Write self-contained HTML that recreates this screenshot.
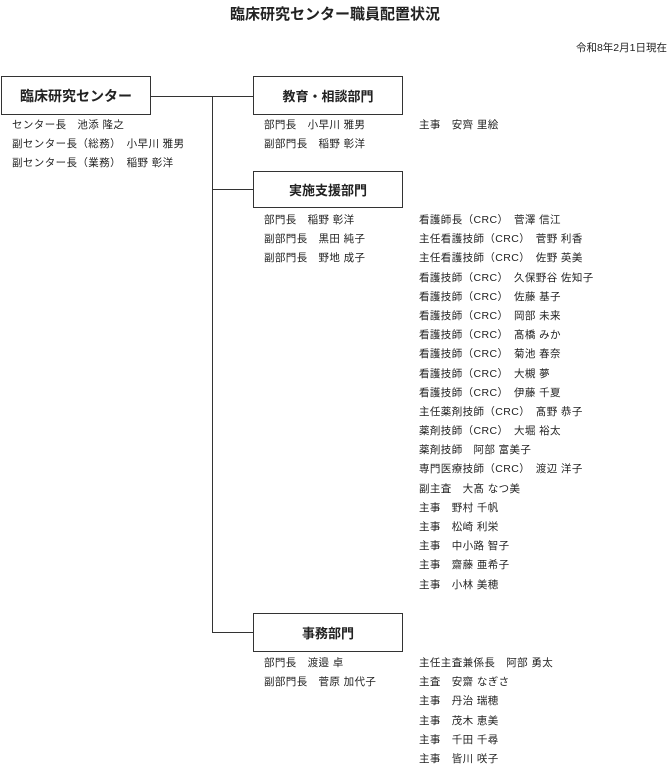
<!DOCTYPE html>
<html><head><meta charset="utf-8"><style>
body{margin:0;width:670px;height:763px;background:#fff;position:relative;font-family:"Liberation Sans","Noto Sans CJK JP",sans-serif;color:#222;overflow:hidden}
.a{position:absolute;white-space:pre;font-size:10px;line-height:12px}
.box{position:absolute;border:1px solid #333;box-sizing:border-box;display:flex;align-items:center;justify-content:center;font-weight:bold;font-size:13px}
.l{position:absolute;background:#333}
.col{position:absolute;font-size:10.5px;letter-spacing:0.4px;white-space:pre}
.col div{height:19.2px;line-height:12px}
</style></head><body>
<div class="a" style="left:0;width:670px;text-align:center;top:6px;font-size:15px;line-height:18px;font-weight:bold">臨床研究センター職員配置状況</div>
<div class="a" style="right:3px;top:42px;font-size:10.5px">令和8年2月1日現在</div>

<div class="box" style="left:1px;top:76px;width:150px;height:39px;font-size:14px">臨床研究センター</div>
<div class="box" style="left:253px;top:76px;width:150px;height:39px">教育・相談部門</div>
<div class="box" style="left:253px;top:171px;width:150px;height:37px">実施支援部門</div>
<div class="box" style="left:253px;top:613px;width:150px;height:39px">事務部門</div>

<div class="l" style="left:151px;top:96px;width:102px;height:1px"></div>
<div class="l" style="left:212px;top:96px;width:1px;height:537px"></div>
<div class="l" style="left:212px;top:189px;width:41px;height:1px"></div>
<div class="l" style="left:212px;top:632px;width:41px;height:1px"></div>

<div class="col" style="left:12px;top:119px"><div>センター長　池添 隆之</div><div>副センター長（総務）　小早川 雅男</div><div>副センター長（業務）　稲野 彰洋</div></div>

<div class="col" style="left:264px;top:119px"><div>部門長　小早川 雅男</div><div>副部門長　稲野 彰洋</div></div>
<div class="col" style="left:419px;top:119px"><div>主事　安齊 里絵</div></div>

<div class="col" style="left:264px;top:214px"><div>部門長　稲野 彰洋</div><div>副部門長　黒田 純子</div><div>副部門長　野地 成子</div></div>
<div class="col" style="left:419px;top:214px"><div>看護師長（CRC）　菅澤 信江</div><div>主任看護技師（CRC）　菅野 利香</div><div>主任看護技師（CRC）　佐野 英美</div><div>看護技師（CRC）　久保野谷 佐知子</div><div>看護技師（CRC）　佐藤 基子</div><div>看護技師（CRC）　岡部 未来</div><div>看護技師（CRC）　髙橋 みか</div><div>看護技師（CRC）　菊池 春奈</div><div>看護技師（CRC）　大槻 夢</div><div>看護技師（CRC）　伊藤 千夏</div><div>主任薬剤技師（CRC）　髙野 恭子</div><div>薬剤技師（CRC）　大堀 裕太</div><div>薬剤技師　阿部 富美子</div><div>専門医療技師（CRC）　渡辺 洋子</div><div>副主査　大髙 なつ美</div><div>主事　野村 千帆</div><div>主事　松崎 利栄</div><div>主事　中小路 智子</div><div>主事　齋藤 亜希子</div><div>主事　小林 美穂</div></div>

<div class="col" style="left:264px;top:657px"><div>部門長　渡邉 卓</div><div>副部門長　菅原 加代子</div></div>
<div class="col" style="left:419px;top:657px"><div>主任主査兼係長　阿部 勇太</div><div>主査　安齋 なぎさ</div><div>主事　丹治 瑞穂</div><div>主事　茂木 恵美</div><div>主事　千田 千尋</div><div>主事　皆川 咲子</div></div>
</body></html>
